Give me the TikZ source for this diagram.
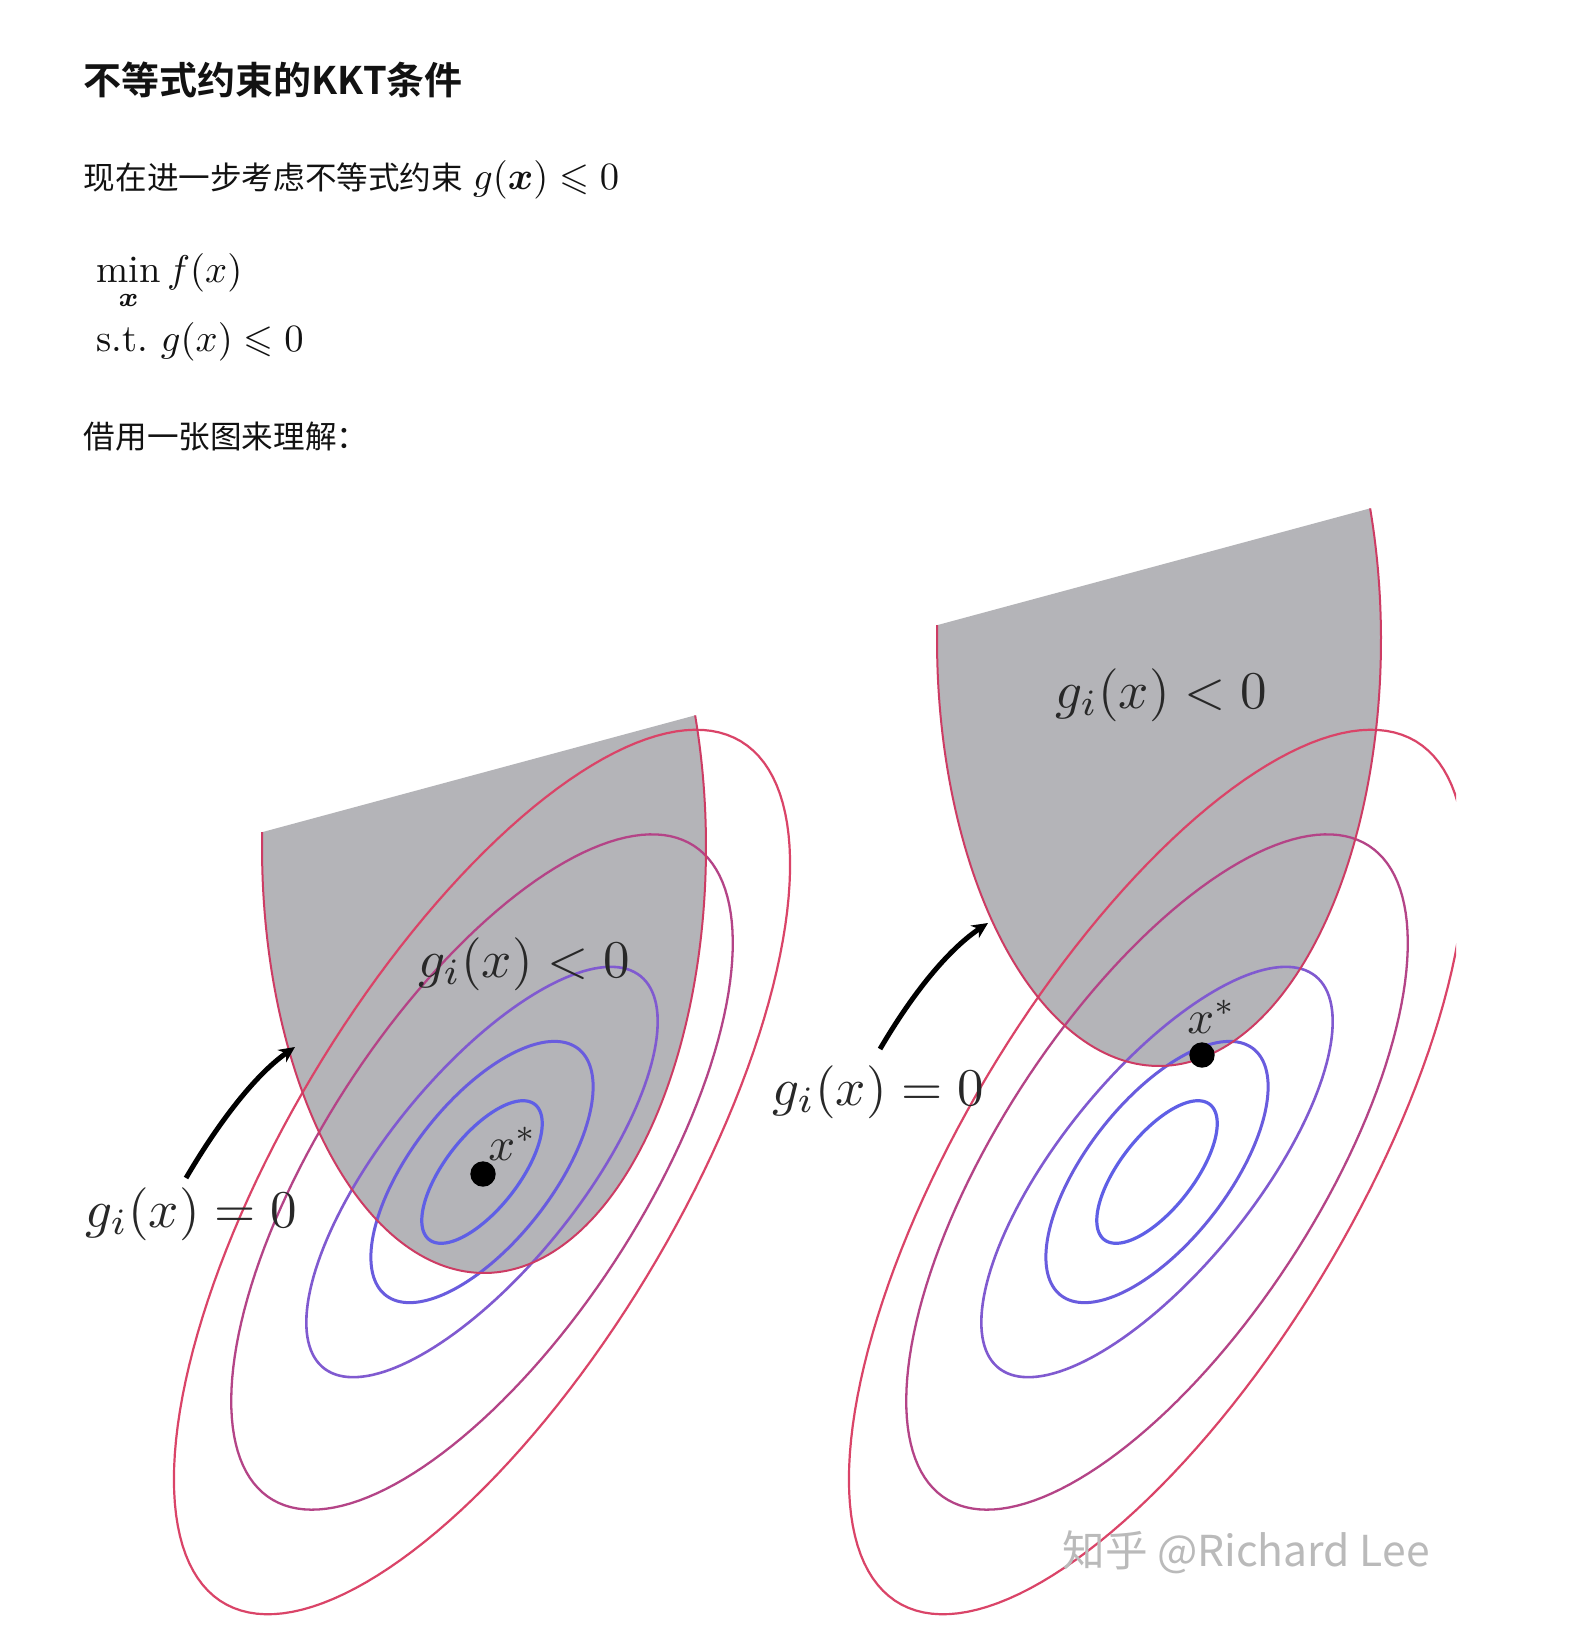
\documentclass[tikz,border=0pt]{standalone}
\usepackage{amsmath,amssymb}
\usepackage{graphicx}
\usepackage{fontspec}
\newfontfamily\cjk{Noto Sans CJK SC}[BoldFont={Noto Sans CJK SC Bold}]
\usetikzlibrary{arrows.meta}
\newcommand{\txtmath}[1]{\scalebox{1.93}{$#1$}}
\newcommand{\figmath}[1]{\scalebox{2.65}{$#1$}}
\newcommand{\starmath}[1]{\scalebox{2.35}{$#1$}}
\definecolor{txt}{RGB}{18,18,18}
\definecolor{regfill}{RGB}{180,180,184}
\definecolor{regline}{RGB}{205,60,100}
\definecolor{eA}{RGB}{95,95,230}
\definecolor{eB}{RGB}{105,92,222}
\definecolor{eC}{RGB}{128,90,208}
\definecolor{eD}{RGB}{180,68,135}
\definecolor{eE}{RGB}{218,68,104}
\definecolor{wmgray}{RGB}{186,186,186}
\definecolor{labtxt}{RGB}{40,40,40}
\begin{document}
\begin{tikzpicture}[x=0.5pt,y=-0.5pt,
  txtnode/.style={anchor=base west, inner sep=0pt, text=txt},
  lab/.style={anchor=base west, inner sep=0pt, text=labtxt},
  optdot/.style={circle, fill=black, inner sep=0pt, minimum size=12.7pt},
  region/.style={fill=regfill},
  rim/.style={draw=regline, line width=1pt},
  hint/.style={draw=black, line width=2.5pt, -{Stealth[length=8pt,width=7.5pt]}}
]
\useasboundingbox (0,0) rectangle (1588,1642);
\fill[white] (0,0) rectangle (1588,1642);

% ---------- text ----------
\node[txtnode] (title) at (83.5,95) {\fontsize{19}{23}\selectfont\cjk\bfseries 不等式约束的KKT条件};
\node[txtnode] (line2) at (83.5,190) {{\fontsize{15.8}{20}\selectfont\cjk 现在进一步考虑不等式约束}\hspace{5pt}\txtmath{g(\boldsymbol{x})\leqslant 0}};
\node[txtnode] (minf) at (96,283) {\txtmath{\displaystyle\min_{\boldsymbol{x}} f(x)}};
\node[txtnode] (st) at (96,351) {\txtmath{\text{s.t.}\ g(x)\leqslant 0}};
\node[txtnode] (jie) at (83.5,448) {\fontsize{15.8}{20}\selectfont\cjk 借用一张图来理解：};

% ---------- feasible regions ----------
\fill[region] plot[domain=-18:182, samples=150] ({484+222*cos(\x)},{847+426*sin(\x)}) -- cycle;
\fill[region] plot[domain=-18:182, samples=150] ({1159+222*cos(\x)},{640+426*sin(\x)}) -- cycle;

% ---------- level sets ----------
\begin{scope}
\clip (0,0) rectangle (1456,1642);
\foreach \ecx in {482,1157}{
  \foreach \ea/\eb/\et/\ec/\ew in {85.8/36.7/52/eA/1.6, 156.4/70.4/52/eB/1.5, 252/97.3/51/eC/1.3, 389/160/57/eD/1.15, 502.5/195/59/eE/1.1}{
    \draw[draw=\ec, line width=\ew pt] plot[domain=0:360, samples=160]
      ({\ecx+\ea*cos(\x)*cos(\et)-\eb*sin(\x)*sin(\et)},{1172-\ea*cos(\x)*sin(\et)-\eb*sin(\x)*cos(\et)}) -- cycle;
  }}
\end{scope}

% ---------- region boundaries ----------
\draw[rim] plot[domain=-18:182, samples=150] ({484+222*cos(\x)},{847+426*sin(\x)});
\draw[rim] plot[domain=-18:182, samples=150] ({1159+222*cos(\x)},{640+426*sin(\x)});

% ---------- left panel ----------
\node[optdot] (dotL) at (483,1174) {};
\node[lab] (xsL) at (488,1160) {\starmath{x^*}};
\node[lab] (ltL) at (418,977) {\figmath{g_i(x) < 0}};
\node[lab] (eqL) at (85,1227) {\figmath{g_i(x) = 0}};
\coordinate (arLs) at (186,1178);
\coordinate (arLe) at (295,1047);
\draw[hint] (arLs) .. controls (223,1115) and (259,1072) .. (arLe);

% ---------- right panel ----------
\node[optdot] (dotR) at (1202,1055) {};
\node[lab] (xsR) at (1187,1033) {\starmath{x^*}};
\node[lab] (ltR) at (1055,708) {\figmath{g_i(x) < 0}};
\node[lab] (eqR) at (772,1105) {\figmath{g_i(x) = 0}};
\coordinate (arRs) at (880,1049);
\coordinate (arRe) at (988,923);
\draw[hint] (arRs) .. controls (917,986) and (952,947) .. (arRe);

% ---------- watermark ----------
\node[anchor=base west, inner sep=0pt, text=wmgray] (wmk) at (1062,1566) {\fontsize{21.3}{25}\selectfont\cjk 知乎 @Richard Lee};
\end{tikzpicture}
\end{document}
